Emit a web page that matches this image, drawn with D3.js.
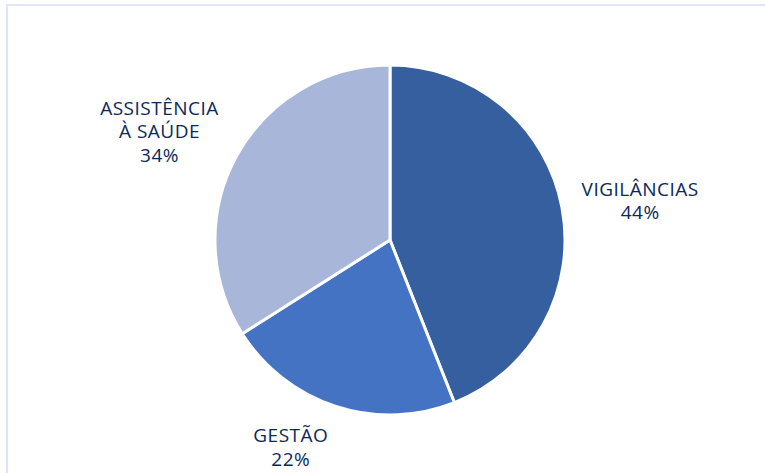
<!DOCTYPE html>
<html lang="pt">
<head>
    <meta charset="UTF-8">
    <title>Distribuição</title>
    <script src="https://d3js.org/d3.v7.min.js"></script>
</head>
<style>
    body { margin: 0; background: #fff; }
    .label text {
        fill: #0b285a;
        font-family: "Open Sans", sans-serif;
        font-size: 19px;
        letter-spacing: 0.5px;
    }
</style>
<body>
    <div id="chart"></div>
</body>
<script>
    // data
    const categories = [["VIGILÂNCIAS"], ["GESTÃO"], ["ASSISTÊNCIA", "À SAÚDE"]];
    const values = [44, 22, 34];
    const colors = ["#365f9f", "#4473c4", "#a8b6da"];

    const width = 765, height = 473;
    const cx = 390, cy = 240, radius = 175;
    const labelR = 193, lineH = 23.5;

    const svg = d3.select("#chart")
        .append("svg")
        .attr("width", width)
        .attr("height", height);

    // light frame of the chart area
    svg.append("rect")
        .attr("x", 7)
        .attr("y", 5)
        .attr("width", width + 20)
        .attr("height", height + 20)
        .attr("fill", "none")
        .attr("stroke", "#dce6f8")
        .attr("stroke-width", 2);

    const data = values.map((v, i) => ({ name: categories[i], value: v, color: colors[i] }));

    const pie = d3.pie().sort(null).value(d => d.value);
    const arcs = pie(data);
    const arc = d3.arc().innerRadius(0).outerRadius(radius);

    const g = svg.append("g").attr("transform", `translate(${cx}, ${cy})`);

    g.selectAll("path")
        .data(arcs).enter()
        .append("path")
        .attr("d", arc)
        .attr("fill", d => d.data.color)
        .attr("stroke", "#fff")
        .attr("stroke-width", 3)
        .attr("stroke-linejoin", "round");

    // outside labels, block placed beside the point at labelR
    arcs.forEach(d => {
        const a = (d.startAngle + d.endAngle) / 2;
        const px = labelR * Math.sin(a), py = -labelR * Math.cos(a);
        const lines = d.data.name.concat([d.data.value + "%"]);
        const lab = g.append("g").attr("class", "label");
        const t = lab.append("text").attr("text-anchor", "middle");
        lines.forEach((s, i) => {
            t.append("tspan").attr("x", 0).attr("y", i * lineH).text(s);
        });
        const w = t.node().getBBox().width;
        const h = lines.length * lineH;
        const bx = px + (Math.sin(a) >= 0 ? w / 2 + 2 : -w / 2 - 2);
        const by = py - (h / 2) * Math.cos(a);
        const top = by - h / 2;
        lab.attr("transform", `translate(${bx}, ${top + 20})`);
    });
</script>
</html>
